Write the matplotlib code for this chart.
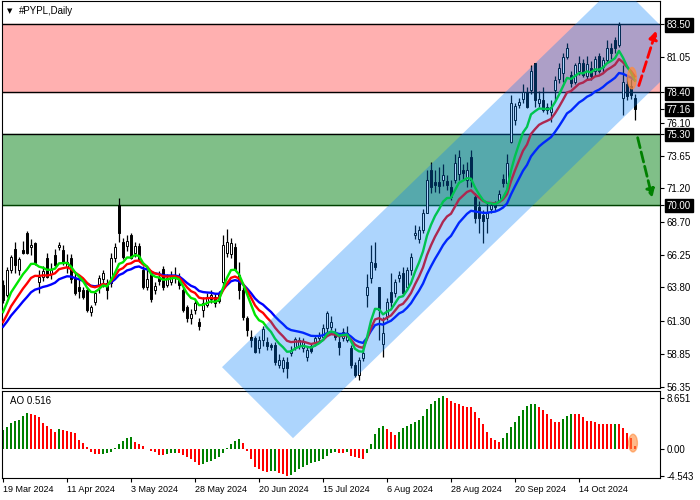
import numpy as np
import pandas as pd
import matplotlib
matplotlib.use('Agg')
import matplotlib.pyplot as plt
from matplotlib.patches import Polygon, Ellipse, Rectangle

# Daily OHLC for #PYPL, 19 Mar 2024 .. 1 Nov 2024
opens = [64.0, 63.2, 65.1, 66.7, 65.1, 66.6, 67.9, 66.8, 67.1, 64.2,
         64.6, 66.0, 64.8, 66.2, 66.8, 66.6, 65.3, 66.0, 64.5, 63.8,
         63.6, 63.6, 62.0, 62.7, 64.0, 64.4, 64.1, 64.1, 66.0, 70.0,
         67.2, 66.9, 67.7, 66.4, 66.9, 65.1, 63.8, 65.0, 63.6, 64.6,
         65.2, 64.0, 64.2, 64.5, 64.4, 63.6, 62.3, 61.5, 62.1, 61.2,
         62.1, 62.5, 62.9, 63.1, 62.8, 64.2, 66.4, 66.3, 66.8, 64.7,
         63.6, 61.5, 60.1, 60.0, 59.3, 59.9, 59.7, 59.5, 59.5, 58.0,
         57.8, 58.2, 58.9, 59.35, 59.4, 59.3, 58.6, 59.4, 59.65, 60.0,
         60.1, 60.75, 60.85, 60.4, 59.7, 60.0, 59.9, 59.3, 58.0, 57.25,
         58.5, 63.2, 64.5, 65.6, 63.8, 59.6, 61.7, 63.45, 63.4, 64.5,
         64.9, 63.8, 65.1, 67.7, 67.4, 68.1, 69.4, 72.6, 71.7, 71.7,
         71.8, 71.75, 71.3, 71.8, 72.3, 72.6, 71.8, 73.55, 70.55, 69.8,
         69.2, 69.0, 69.7, 70.0, 70.3, 71.9, 71.6, 74.7, 76.3, 77.45,
         77.9, 78.4, 78.6, 80.6, 77.6, 77.8, 77.3, 76.9, 78.6, 79.4,
         79.8, 81.0, 79.7, 79.2, 80.0, 80.6, 79.6, 80.2, 80.0, 81.1,
         80.3, 80.8, 81.7, 82.3, 81.9, 77.95, 79.0, 78.9, 78.0]
highs = [64.35, 65.3, 66.2, 67.2, 66.1, 67.3, 68.0, 67.4, 67.2, 65.1,
         65.4, 66.4, 65.6, 66.7, 67.2, 67.0, 66.3, 66.3, 64.9, 64.4,
         63.8, 63.8, 62.5, 63.6, 64.7, 65.1, 64.4, 66.4, 67.1, 70.5,
         67.5, 67.7, 67.9, 67.2, 67.1, 65.4, 65.1, 65.1, 64.2, 65.0,
         65.4, 64.8, 65.0, 65.3, 64.9, 63.8, 62.5, 62.2, 62.9, 61.5,
         63.1, 63.4, 63.6, 63.4, 63.5, 67.7, 68.2, 67.5, 67.1, 65.7,
         63.8, 61.7, 60.6, 60.2, 60.2, 60.9, 60.1, 59.65, 59.7, 58.8,
         58.6, 58.6, 59.4, 60.1, 60.1, 60.0, 59.4, 59.6, 60.2, 60.5,
         61.1, 62.05, 61.7, 60.8, 60.25, 60.8, 60.9, 59.5, 58.2, 58.6,
         59.4, 64.8, 67.0, 67.2, 63.85, 61.6, 63.0, 64.9, 64.4, 65.0,
         65.3, 65.3, 66.4, 68.5, 68.4, 69.7, 72.6, 73.2, 72.6, 72.8,
         73.0, 72.2, 71.8, 73.8, 74.1, 73.0, 73.2, 74.1, 70.85, 70.3,
         69.6, 70.2, 70.2, 70.3, 71.05, 72.3, 73.8, 78.2, 77.6, 78.0,
         79.0, 78.8, 80.4, 80.6, 78.5, 78.8, 77.6, 77.8, 79.6, 80.6,
         81.3, 82.05, 80.0, 80.6, 81.1, 80.9, 81.1, 80.7, 81.1, 81.35,
         81.0, 82.3, 82.1, 82.5, 83.65, 80.4, 79.7, 79.4, 78.3]
lows = [62.6, 63.1, 64.9, 64.9, 64.7, 66.3, 66.3, 66.2, 65.5, 63.4,
        64.3, 64.5, 64.4, 65.3, 66.6, 65.5, 64.9, 64.1, 63.2, 63.0,
        62.9, 61.95, 61.7, 62.5, 63.4, 63.8, 62.9, 63.8, 65.7, 67.2,
        65.9, 66.5, 65.9, 66.1, 65.7, 63.7, 63.6, 62.7, 63.3, 64.0,
        63.6, 63.8, 64.0, 64.1, 63.7, 61.95, 61.2, 61.1, 61.8, 60.6,
        61.6, 62.3, 62.6, 62.3, 62.6, 64.0, 66.1, 66.0, 65.1, 62.9,
        61.4, 60.2, 59.35, 58.9, 58.9, 59.4, 59.1, 59.1, 58.0, 57.8,
        57.5, 57.0, 58.7, 59.1, 59.2, 59.0, 58.3, 58.9, 59.4, 59.7,
        59.9, 60.4, 60.6, 59.9, 58.75, 59.8, 59.7, 57.8, 57.1, 56.9,
        58.3, 62.3, 64.1, 65.1, 59.9, 58.6, 61.4, 62.3, 63.1, 64.2,
        63.2, 63.6, 64.7, 67.4, 67.1, 67.9, 69.35, 70.85, 70.9, 70.85,
        71.35, 71.1, 70.35, 71.6, 71.8, 71.9, 71.3, 71.3, 68.6, 67.85,
        67.1, 67.85, 69.4, 69.5, 70.2, 71.3, 71.4, 74.6, 75.95, 77.2,
        77.6, 77.2, 78.3, 77.3, 77.3, 76.9, 76.8, 76.2, 77.8, 79.1,
        79.2, 80.9, 78.8, 79.0, 79.7, 79.5, 79.3, 79.3, 79.6, 79.8,
        79.9, 80.6, 80.9, 81.3, 81.8, 76.7, 77.8, 77.9, 76.3]
closes = [62.85, 65.1, 66.1, 65.5, 65.9, 66.4, 66.4, 67.0, 65.6, 64.6,
          65.0, 64.6, 65.1, 65.5, 67.0, 65.7, 65.7, 64.4, 63.4, 63.5,
          63.1, 62.1, 62.3, 63.4, 64.5, 64.9, 63.6, 66.0, 66.8, 67.9,
          66.1, 67.3, 66.0, 66.9, 65.9, 63.8, 64.4, 62.9, 63.9, 64.3,
          63.8, 64.5, 64.7, 64.7, 64.0, 62.1, 61.5, 61.8, 62.6, 60.9,
          62.6, 63.1, 63.2, 62.6, 63.3, 66.95, 67.2, 67.1, 65.2, 63.6,
          61.6, 60.6, 59.9, 59.0, 59.9, 60.7, 59.4, 59.35, 58.2, 58.35,
          58.35, 57.8, 59.1, 59.95, 59.85, 59.7, 59.1, 59.05, 60.0, 60.2,
          60.75, 61.9, 61.2, 60.1, 59.35, 60.45, 60.4, 58.0, 57.25, 58.35,
          58.9, 63.8, 65.7, 65.3, 62.1, 60.4, 62.7, 62.7, 64.2, 64.7,
          63.4, 65.1, 66.05, 67.9, 68.1, 69.4, 71.8, 71.3, 71.45, 71.4,
          72.2, 71.45, 70.55, 73.1, 73.55, 72.35, 72.6, 71.8, 69.0, 69.0,
          68.8, 69.35, 70.0, 69.8, 70.8, 71.6, 73.1, 77.6, 77.4, 77.7,
          78.4, 77.3, 80.0, 77.8, 77.9, 77.1, 77.05, 77.3, 79.3, 80.2,
          81.0, 81.7, 79.1, 80.4, 80.6, 79.7, 80.5, 79.6, 80.9, 80.0,
          80.8, 81.7, 81.3, 81.7, 83.4, 79.2, 78.1, 78.2, 77.16]

# Awesome Oscillator values
ao = [3.2, 3.8, 4.35, 4.8, 4.95, 5.6, 6.05, 6.0, 5.75, 5.35,
      4.45, 3.9, 3.35, 2.95, 3.35, 3.2, 3.05, 2.95, 2.65, 1.5,
      0.95, 0.3, -0.45, -0.85, -0.9, -0.8, -0.7, -0.45, 0.1, 0.85,
      1.35, 1.8, 2.0, 1.25, 0.85, 0.55, 0.0, -0.3, -0.55, -1.0,
      -1.1, -0.85, -0.75, -0.6, -0.75, -1.0, -1.3, -1.75, -2.15, -2.65,
      -2.55, -2.25, -2.05, -1.7, -1.4, -0.75, 0.1, 0.85, 1.35, 1.65,
      1.05, -0.3, -1.75, -3.1, -3.45, -3.8, -3.85, -3.8, -3.75, -4.0,
      -4.25, -4.5, -4.4, -3.85, -3.45, -3.1, -2.7, -2.45, -2.15, -2.0,
      -1.75, -1.2, -0.75, -0.45, -0.6, -0.65, -0.45, -1.2, -1.4, -1.55,
      -1.65, -0.75, 0.85, 2.55, 3.5, 3.9, 3.35, 2.95, 2.4, 2.8,
      3.5, 3.9, 4.2, 4.5, 4.95, 5.6, 6.75, 7.65, 8.2, 8.6,
      9.05, 8.6, 8.2, 7.75, 7.65, 7.35, 7.2, 7.15, 6.2, 5.2,
      4.2, 2.95, 1.8, 1.55, 1.25, 1.8, 2.65, 3.8, 4.65, 5.6,
      6.6, 7.3, 7.6, 7.65, 7.2, 6.6, 5.95, 5.0, 4.65, 4.6,
      5.0, 5.6, 6.0, 5.95, 5.9, 5.5, 4.8, 4.75, 4.5, 4.25,
      4.22, 4.2, 4.18, 4.25, 4.2, 3.5, 2.65, 1.8, 0.516]

date_labels = ['19 Mar 2024', '11 Apr 2024', '3 May 2024', '28 May 2024', '20 Jun 2024',
               '15 Jul 2024', '6 Aug 2024', '28 Aug 2024', '20 Sep 2024', '14 Oct 2024']
date_pos = [0, 16, 32, 48, 64, 80, 96, 112, 128, 144]

price_ticks = [83.50, 81.05, 78.40, 77.16, 76.10, 75.30, 73.65, 71.20, 70.00,
               68.70, 66.25, 63.80, 61.30, 58.85, 56.35]
boxed_ticks = [83.50, 78.40, 77.16, 75.30, 70.00]
ao_ticks = [8.651, 0.0, -4.543]

sell_zone = (78.40, 83.50)
buy_zone = (70.00, 75.30)

# trend channel corners (bar index, price)
channel_x = [54.75, 72.5, 171.5, 153.75]
channel_y = [57.84, 52.53, 81.26, 86.57]

# moving averages: span, value before first bar, colour
ma_spans = [21, 13, 8]
ma_seeds = [60.66, 60.93, 61.7]
ma_colors = ['#0000ff', '#ff0000', '#00e600']

plt.rcParams['font.family'] = ['Liberation Sans', 'DejaVu Sans']

fig = plt.figure(figsize=(7, 5), dpi=100)
# indicator pane first so the price pane (and its channel) is drawn on top
ax2 = fig.add_axes([2 / 700, 22 / 500, 658 / 700, 87 / 500])
ax = fig.add_axes([2 / 700, 112 / 500, 658 / 700, 387 / 500])

n = len(closes)
x = np.arange(n)
o = np.array(opens)
c = np.array(closes)
h = np.array(highs)
l = np.array(lows)

# zones
ax.axhspan(*sell_zone, color='#ffb0b0', zorder=0)
ax.axhspan(*buy_zone, color='#80bf88', zorder=0)
for lvl in [83.50, 78.40, 75.30]:
    ax.axhline(lvl, color='black', lw=1, zorder=1)
ax.axhline(70.00, color='#004000', lw=1, zorder=1)

# candles
up = c >= o
ax.vlines(x, l, h, color='black', lw=0.9, zorder=2)
body = np.maximum(np.abs(c - o), 0.04)
ax.bar(x[up], body[up], bottom=o[up], width=0.7, color='white',
       edgecolor='black', linewidth=0.7, zorder=3)
ax.bar(x[~up], body[~up], bottom=c[~up], width=0.7, color='black',
       edgecolor='black', linewidth=0.7, zorder=3)

# moving averages
for span, seed, col in zip(ma_spans, ma_seeds, ma_colors):
    s = pd.Series([seed] + closes).ewm(span=span, adjust=False).mean().values[1:]
    ax.plot(x, s, color=col, lw=1.7, zorder=4)

# trend channel, spilling into the indicator pane
poly = Polygon(list(zip(channel_x, channel_y)), closed=True,
               facecolor=(0.0, 0.49, 0.98), alpha=0.32, edgecolor='none', zorder=5)
ax.add_patch(poly)
clip = Rectangle((2 / 700, 22 / 500), 658 / 700, 477 / 500, transform=fig.transFigure)
poly.set_clip_path(clip)

ax.add_patch(Ellipse((157.25, 79.45), 2.2, 1.6, color='#ff8c3c', alpha=0.7, zorder=6))
ax.annotate('', xy=(163.5, 83.2), xytext=(158.75, 78.7),
            arrowprops=dict(arrowstyle='-|>', ls='--', lw=2, color='#ff0000',
                            mutation_scale=12), zorder=7, annotation_clip=False)
ax.annotate('', xy=(162.5, 70.3), xytext=(158.5, 75.2),
            arrowprops=dict(arrowstyle='-|>', ls='--', lw=2, color='#008000',
                            mutation_scale=12), zorder=7, annotation_clip=False)

ax.set_xlim(-0.25, 164.25)
ax.set_ylim(56.28, 85.22)
ax.yaxis.tick_right()
ax.set_yticks(price_ticks)
ax.set_yticklabels(['%.2f' % v for v in price_ticks])
ax.tick_params(axis='y', direction='out', length=3, pad=2, labelsize=7)
ax.tick_params(axis='x', bottom=False, labelbottom=False)
for v, lbl in zip(price_ticks, ax.get_yticklabels()):
    if v in boxed_ticks:
        lbl.set_color('white')
        lbl.set_bbox(dict(facecolor='black', edgecolor='black', pad=1.2))
ax.text(5 / 658, 1 - 10 / 387, '\u25bc', transform=ax.transAxes, fontsize=5,
        va='center', ha='left', family='DejaVu Sans')
ax.text(17 / 658, 1 - 10 / 387, '#PYPL,Daily', transform=ax.transAxes, fontsize=7,
        va='center', ha='left')

# AO histogram
ao_arr = np.array(ao)
ao_col = ['#008000' if i == 0 or ao_arr[i] > ao_arr[i - 1] else '#ff0000' for i in range(n)]
ax2.bar(x, ao_arr, width=0.7, color=ao_col, zorder=2)
ax2.add_patch(Ellipse((157.5, 1.0), 2.2, 3.0, color='#ff8c3c', alpha=0.6, zorder=3))
ax2.set_xlim(-0.25, 164.25)
ax2.set_ylim(-4.92, 9.83)
ax2.yaxis.tick_right()
ax2.set_yticks(ao_ticks)
ax2.set_yticklabels(['8.651', '0.00', '-4.543'])
ax2.tick_params(axis='y', direction='out', length=3, pad=2, labelsize=7)
ax2.set_xticks(date_pos)
ax2.set_xticklabels(date_labels, ha='left')
ax2.tick_params(axis='x', direction='out', length=3, pad=2, labelsize=6.5)
ax2.text(8 / 658, 1 - 10 / 87, 'AO 0.516', transform=ax2.transAxes, fontsize=7,
         va='center', ha='left')

fig.savefig('out.png', dpi=100)
